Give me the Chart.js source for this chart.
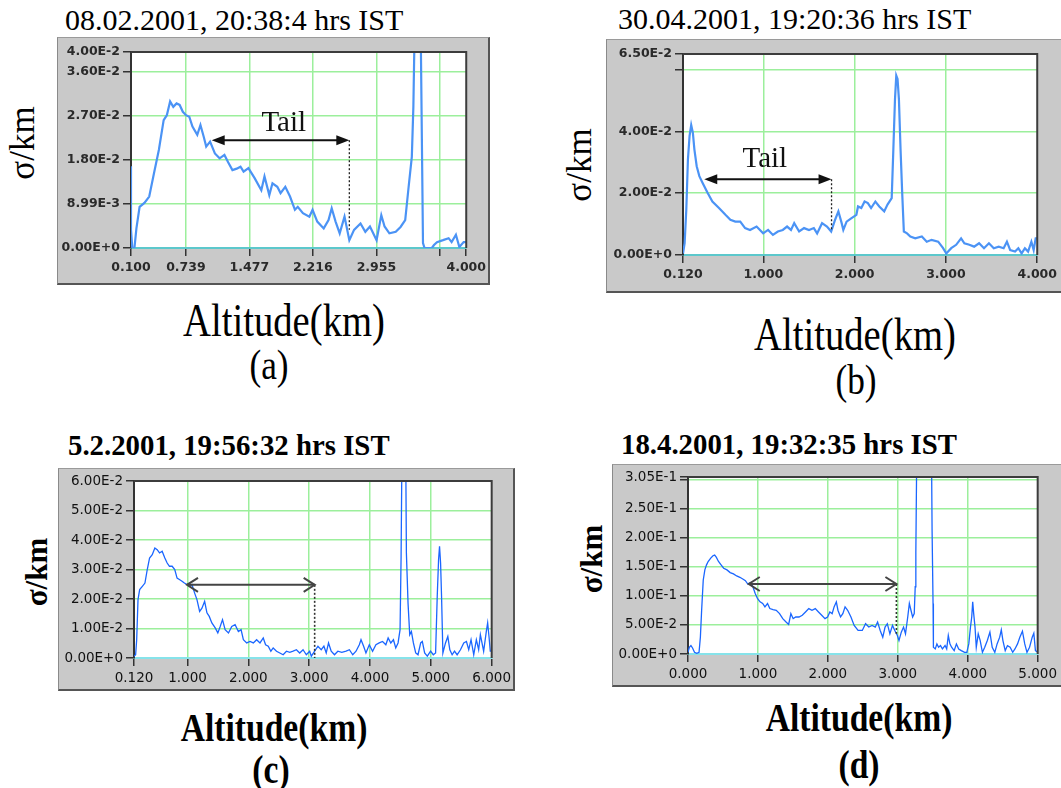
<!DOCTYPE html>
<html><head><meta charset="utf-8">
<script src="https://cdn.jsdelivr.net/npm/chart.js@4.4.1/dist/chart.umd.min.js"></script>
<style>
body{margin:0;background:#fff;width:1061px;height:788px;position:relative;overflow:hidden;}
.frame{position:absolute;box-sizing:border-box;background:#c9c9c9;border-top:1px solid #9a9a9a;border-left:1px solid #8a8a8a;border-right:2px solid #555;border-bottom:2px solid #555;}
canvas{position:absolute;}
.t{position:absolute;white-space:nowrap;line-height:1;color:#000;font-family:"Liberation Serif","Times New Roman",serif;}
.c{transform:translateX(-50%) scaleX(0.84);}
.r{transform:translate(-50%,-50%) rotate(-90deg);}
</style></head>
<body>
<div class="frame" style="left:57px;top:37px;width:433px;height:248px"></div>
<div class="frame" style="left:606px;top:39px;width:460px;height:254px"></div>
<div class="frame" style="left:58px;top:468px;width:457px;height:223px"></div>
<div class="frame" style="left:612px;top:464px;width:460px;height:223px"></div>
<canvas id="cA" width="433" height="248" style="left:57px;top:37px"></canvas>
<canvas id="cB" width="455" height="254" style="left:606px;top:39px"></canvas>
<canvas id="cC" width="457" height="223" style="left:58px;top:468px"></canvas>
<canvas id="cD" width="449" height="223" style="left:612px;top:464px"></canvas>

<div class="t" style="left:65px;top:4.9px;font-size:30px">08.02.2001, 20:38:4 hrs IST</div>
<div class="t" style="left:618px;top:3.9px;font-size:30px">30.04.2001, 19:20:36 hrs IST</div>
<div class="t" style="left:68px;top:431px;font-size:28.8px;font-weight:bold">5.2.2001, 19:56:32 hrs IST</div>
<div class="t" style="left:621px;top:430px;font-size:28.8px;font-weight:bold">18.4.2001, 19:32:35 hrs IST</div>

<div class="t r" style="left:22px;top:143px;font-size:35px">σ/km</div>
<div class="t r" style="left:579px;top:165px;font-size:35px">σ/km</div>
<div class="t r" style="left:36px;top:572px;font-size:31px;font-weight:bold">σ/km</div>
<div class="t r" style="left:591px;top:559px;font-size:31px;font-weight:bold">σ/km</div>

<div class="t c" style="left:284px;top:297.5px;font-size:46px">Altitude(km)</div>
<div class="t c" style="left:269px;top:344px;font-size:42px">(a)</div>
<div class="t c" style="left:855px;top:311.5px;font-size:46px">Altitude(km)</div>
<div class="t c" style="left:856px;top:359px;font-size:42px">(b)</div>
<div class="t c" style="left:274px;top:707.5px;font-size:40px;font-weight:bold">Altitude(km)</div>
<div class="t c" style="left:271px;top:749.5px;font-size:40px;font-weight:bold">(c)</div>
<div class="t c" style="left:859px;top:697.5px;font-size:40px;font-weight:bold">Altitude(km)</div>
<div class="t c" style="left:859px;top:744.5px;font-size:40px;font-weight:bold">(d)</div>

<script>
// ---------- Panel (a) ----------
const altA = [
 0.1, 0.1, 0.115, 0.14, 0.163, 0.2, 0.256, 0.312, 0.368, 0.424,
 0.48, 0.517, 0.555, 0.592, 0.63, 0.666, 0.703, 0.74, 0.778, 0.815,
 0.871, 0.908, 0.946, 0.975, 1.02, 1.076, 1.131, 1.187, 1.23, 1.28,
 1.33, 1.374, 1.41, 1.466, 1.54, 1.616, 1.653, 1.709, 1.746, 1.802,
 1.84, 1.895, 1.95, 2.007, 2.04, 2.1, 2.175, 2.212, 2.267, 2.342,
 2.398, 2.435, 2.48, 2.528, 2.584, 2.64, 2.695, 2.77, 2.826, 2.88,
 2.957, 3.012, 3.05, 3.106, 3.18, 3.236, 3.29, 3.33, 3.367, 3.385,
 3.40, 3.42, 3.45, 3.47, 3.497, 3.515, 3.6, 3.625, 3.66, 3.73,
 3.795, 3.83, 3.88, 3.92, 3.97, 4.0];
const sigmaA = [
 0.0167, 0.0037, 0, 0, 0.004, 0.0084, 0.0092, 0.0105, 0.0153, 0.0200,
 0.0261, 0.0271, 0.0299, 0.0288, 0.0295, 0.0292, 0.0278, 0.0271, 0.0268, 0.0248,
 0.0231, 0.0251, 0.0227, 0.0207, 0.0217, 0.0193, 0.0183, 0.0190, 0.0175, 0.0159,
 0.0162, 0.0166, 0.0156, 0.0163, 0.0142, 0.0118, 0.0146, 0.0108, 0.0132, 0.0125,
 0.0112, 0.0125, 0.0105, 0.0078, 0.0084, 0.0071, 0.0064, 0.0078, 0.0054, 0.0040,
 0.0057, 0.0081, 0.0054, 0.0030, 0.0064, 0.0016, 0.0037, 0.0050, 0.0033, 0.0044,
 0.0016, 0.0067, 0.0044, 0.0030, 0.0033, 0.0043, 0.0057, 0.0125, 0.0186, 0.0288,
 0.045, 0.06, 0.06, 0.045, 0.001, 0, 0, 0.0006, 0.0012, 0.0016,
 0.0020, 0.0012, 0.0027, 0.0002, 0.0012, 0.0012];
const xTicksA = [0.1, 0.739, 1.477, 2.216, 2.955, 3.694, 4.0];
const xLabelsA = ['0.100', '0.739', '1.477', '2.216', '2.955', '', '4.000'];
const yTicksA = [0, 0.00899, 0.018, 0.027, 0.036, 0.04];
const yLabelsA = ['0.00E+0', '8.99E-3', '1.80E-2', '2.70E-2', '3.60E-2', '4.00E-2'];
const tailA = [1.039, 2.64, 0.022, 0.0037];     // arrow start, end, level, dotted drop
const tailTextA = [1.877, 0.0255];

// ---------- Panel (b) ----------
const altB = [
 0.12, 0.138, 0.156, 0.174, 0.192, 0.21, 0.228, 0.245, 0.27, 0.299,
 0.335, 0.389, 0.442, 0.514, 0.585, 0.639, 0.693, 0.747, 0.8, 0.854,
 0.926, 0.998, 1.052, 1.105, 1.159, 1.213, 1.26, 1.303, 1.338, 1.392,
 1.446, 1.5, 1.553, 1.589, 1.643, 1.697, 1.743, 1.786, 1.822, 1.858,
 1.876, 1.912, 1.966, 2.019, 2.037, 2.073, 2.109, 2.145, 2.18, 2.227,
 2.27, 2.324, 2.36, 2.406, 2.424, 2.442, 2.456, 2.47, 2.485, 2.503,
 2.521, 2.539, 2.574, 2.61, 2.664, 2.736, 2.79, 2.843, 2.915, 2.969,
 3.004, 3.058, 3.112, 3.166, 3.202, 3.256, 3.309, 3.363, 3.417, 3.471,
 3.524, 3.578, 3.632, 3.668, 3.704, 3.757, 3.793, 3.829, 3.865, 3.9,
 3.936, 3.961, 3.983, 4.0];
const sigmaB = [
 0.0005, 0.0038, 0.0146, 0.0309, 0.0385, 0.042, 0.0396, 0.0341, 0.0287, 0.0255,
 0.0233, 0.0201, 0.0173, 0.0152, 0.013, 0.0114, 0.0108, 0.0108, 0.0087, 0.0081,
 0.0092, 0.007, 0.0081, 0.0065, 0.0076, 0.0081, 0.0092, 0.0081, 0.0103, 0.0076,
 0.0087, 0.0081, 0.0087, 0.007, 0.0103, 0.0092, 0.0076, 0.0114, 0.0141, 0.0103,
 0.0081, 0.0108, 0.0119, 0.013, 0.0157, 0.0152, 0.0173, 0.0168, 0.0152, 0.0173,
 0.0157, 0.0141, 0.0163, 0.0184, 0.0341, 0.0504, 0.058, 0.0569, 0.0504, 0.0341,
 0.02, 0.0076, 0.007, 0.006, 0.0054, 0.006, 0.0043, 0.0049, 0.0043, 0.0022,
 0.0005, 0.0022, 0.0033, 0.0054, 0.0038, 0.0033, 0.0027, 0.0038, 0.0022, 0.0038,
 0.0022, 0.0027, 0.0022, 0.0043, 0.0016, 0.0011, 0.0022, 0.0005, 0.0022, 0.0011,
 0.0043, 0.0016, 0.0054, 0.0054];
const xTicksB = [0.12, 1, 2, 3, 4];
const xLabelsB = ['0.120', '1.000', '2.000', '3.000', '4.000'];
const yTicksB = [0, 0.02, 0.04, 0.06, 0.065];
const yLabelsB = ['0.00E+0', '2.00E-2', '4.00E-2', '', '6.50E-2'];
const tailB = [0.353, 1.747, 0.0245, 0.0077];
const tailTextB = [1.016, 0.031];

// ---------- Panel (c) ----------
const altC = [
 0.12, 0.147, 0.164, 0.186, 0.213, 0.257, 0.3, 0.338, 0.376, 0.42,
 0.463, 0.501, 0.54, 0.583, 0.627, 0.665, 0.703, 0.747, 0.79, 0.828,
 0.866, 0.91, 0.948, 0.992, 1.03, 1.073, 1.117, 1.155, 1.199, 1.237,
 1.281, 1.319, 1.357, 1.4, 1.455, 1.498, 1.537, 1.575, 1.618, 1.673,
 1.727, 1.782, 1.836, 1.88, 1.918, 1.973, 2.027, 2.082, 2.136, 2.191,
 2.245, 2.283, 2.327, 2.37, 2.408, 2.463, 2.517, 2.572, 2.626, 2.681,
 2.735, 2.79, 2.844, 2.899, 2.953, 3.008, 3.035, 3.09, 3.144, 3.198,
 3.242, 3.28, 3.318, 3.362, 3.416, 3.471, 3.536, 3.607, 3.661, 3.716,
 3.77, 3.824, 3.852, 3.895, 3.933, 3.988, 4.042, 4.097, 4.151, 4.206,
 4.26, 4.298, 4.342, 4.385, 4.423, 4.461, 4.494, 4.511, 4.527, 4.56,
 4.587, 4.598, 4.625, 4.653, 4.68, 4.713, 4.751, 4.789, 4.833, 4.86,
 4.898, 4.942, 4.996, 5.04, 5.078, 5.105, 5.127, 5.143, 5.16, 5.176,
 5.198, 5.241, 5.279, 5.312, 5.35, 5.389, 5.432, 5.487, 5.541, 5.585,
 5.623, 5.661, 5.705, 5.748, 5.786, 5.814, 5.841, 5.868, 5.912, 5.934,
 5.956, 5.977, 6.0];
const sigmaC = [
 0.0006, 0.0011, 0.0062, 0.0198, 0.0232, 0.0243, 0.0254, 0.03, 0.0339, 0.035,
 0.0373, 0.0367, 0.0356, 0.0362, 0.0339, 0.0322, 0.0311, 0.0311, 0.03, 0.0271,
 0.0266, 0.026, 0.0254, 0.0249, 0.0243, 0.0249, 0.022, 0.0198, 0.0158, 0.0169,
 0.0192, 0.0153, 0.0141, 0.0119, 0.0102, 0.0085, 0.0107, 0.013, 0.0096, 0.0085,
 0.0107, 0.0113, 0.009, 0.0096, 0.0062, 0.0051, 0.0056, 0.0051, 0.0062, 0.0051,
 0.0068, 0.0045, 0.004, 0.0023, 0.0034, 0.0023, 0.0017, 0.0011, 0.0023, 0.0019,
 0.0023, 0.0028, 0.0017, 0.0028, 0.0011, 0.0023, 0.0006, 0.0023, 0.004, 0.0028,
 0.004, 0.0017, 0.0051, 0.0023, 0.0011, 0.0023, 0.0019, 0.0023, 0.0028, 0.0011,
 0.0023, 0.0045, 0.0062, 0.004, 0.0017, 0.0045, 0.0023, 0.0045, 0.0051, 0.0056,
 0.0045, 0.0068, 0.0051, 0.0062, 0.0034, 0.0051, 0.0096, 0.0345, 0.075, 0.08,
 0.07, 0.0356, 0.0186, 0.0079, 0.009, 0.0051, 0.0017, 0.0011, 0.0051, 0.0056,
 0.0017, 0.0006, 0.0023, 0.0011, 0.0017, 0.0209, 0.0333, 0.0379, 0.0322, 0.0209,
 0.0017, 0.0051, 0.0073, 0.0028, 0.0011, 0.0023, 0.0011, 0.0028, 0.0051, 0.0056,
 0.0028, 0.0062, 0.0011, 0.0062, 0.0028, 0.0079, 0.0051, 0.0023, 0.009, 0.0119,
 0.0073, 0.0023, 0.0023];
const xTicksC = [0.12, 1, 2, 3, 4, 5, 6];
const xLabelsC = ['0.120', '1.000', '2.000', '3.000', '4.000', '5.000', '6.000'];
const yTicksC = [0, 0.01, 0.02, 0.03, 0.04, 0.05, 0.06];
const yLabelsC = ['0.00E+0', '1.00E-2', '2.00E-2', '3.00E-2', '4.00E-2', '5.00E-2', '6.00E-2'];
const tailC = [0.991, 3.09, 0.0248, 0];

// ---------- Panel (d) ----------
const altD = [
 0.0, 0.019, 0.042, 0.065, 0.093, 0.126, 0.158, 0.177, 0.195, 0.218,
 0.241, 0.265, 0.288, 0.325, 0.357, 0.381, 0.404, 0.436, 0.473, 0.51,
 0.557, 0.603, 0.65, 0.696, 0.742, 0.789, 0.821, 0.854, 0.891, 0.928,
 0.961, 0.993, 1.03, 1.068, 1.1, 1.137, 1.17, 1.216, 1.262, 1.309,
 1.355, 1.402, 1.439, 1.471, 1.504, 1.541, 1.587, 1.634, 1.68, 1.727,
 1.773, 1.82, 1.866, 1.912, 1.959, 1.996, 2.028, 2.061, 2.089, 2.121,
 2.144, 2.181, 2.214, 2.246, 2.283, 2.33, 2.376, 2.432, 2.492, 2.539,
 2.585, 2.632, 2.678, 2.711, 2.748, 2.785, 2.818, 2.85, 2.887, 2.924,
 2.957, 2.994, 3.017, 3.05, 3.082, 3.11, 3.142, 3.165, 3.188, 3.212,
 3.235, 3.249, 3.258, 3.272, 3.481, 3.49, 3.504, 3.509, 3.536, 3.559,
 3.583, 3.611, 3.638, 3.676, 3.699, 3.722, 3.745, 3.769, 3.806, 3.838,
 3.871, 3.908, 3.955, 3.987, 4.015, 4.039, 4.057, 4.071, 4.085, 4.104,
 4.122, 4.15, 4.178, 4.21, 4.243, 4.28, 4.317, 4.35, 4.387, 4.42,
 4.457, 4.48, 4.503, 4.536, 4.568, 4.606, 4.643, 4.675, 4.712, 4.745,
 4.782, 4.815, 4.847, 4.884, 4.922, 4.945, 4.968, 5.0];
const sigmaD = [
 0.003, 0.0116, 0.0145, 0.0104, 0.0029, 0.0012, 0.0029, 0.029, 0.0754, 0.1275,
 0.1449, 0.1536, 0.1594, 0.1652, 0.1693, 0.1704, 0.167, 0.1594, 0.1536, 0.1478,
 0.1449, 0.1403, 0.138, 0.1345, 0.1322, 0.1287, 0.1264, 0.1206, 0.1229, 0.1159,
 0.1043, 0.0957, 0.0899, 0.087, 0.0812, 0.087, 0.0783, 0.0765, 0.0754, 0.0696,
 0.0609, 0.0551, 0.051, 0.0696, 0.0609, 0.0638, 0.0638, 0.0667, 0.0725, 0.0783,
 0.0754, 0.0783, 0.0725, 0.0667, 0.0609, 0.0638, 0.0725, 0.0696, 0.0812, 0.0899,
 0.0754, 0.0638, 0.0696, 0.0812, 0.0754, 0.0638, 0.0493, 0.0406, 0.0406, 0.0522,
 0.0464, 0.0493, 0.0464, 0.0551, 0.0406, 0.029, 0.0464, 0.0522, 0.0348, 0.0493,
 0.0406, 0.0319, 0.0232, 0.0377, 0.0464, 0.0348, 0.0638, 0.087, 0.0754, 0.0638,
 0.0696, 0.1159, 0.1739, 0.36, 0.36, 0.2145, 0.087, 0.0116, 0.0087, 0.0174,
 0.0116, 0.0145, 0.0087, 0.0145, 0.0087, 0.0319, 0.0174, 0.0116, 0.0058, 0.0174,
 0.0087, 0.0058, 0.0029, 0.0029, 0.0174, 0.0464, 0.0638, 0.0899, 0.0696, 0.0464,
 0.0116, 0.0348, 0.0232, 0.0029, 0.0116, 0.0232, 0.0377, 0.0116, 0.0029, 0.0174,
 0.029, 0.0417, 0.0232, 0.0058, 0.0145, 0.0116, 0.0029, 0.0087, 0.0174, 0.029,
 0.0394, 0.0174, 0.0029, 0.0116, 0.029, 0.0359, 0.0058, 0.0029];
const xTicksD = [0, 1, 2, 3, 4, 5];
const xLabelsD = ['0.000', '1.000', '2.000', '3.000', '4.000', '5.000'];
const yTicksD = [0, 0.05, 0.1, 0.15, 0.2, 0.25, 0.3, 0.305];
const yLabelsD = ['0.00E+0', '5.00E-2', '1.00E-1', '1.50E-1', '2.00E-1', '2.50E-1', '', '3.05E-1'];
const tailD = [0.869, 2.98, 0.1206, 0.0348];

// ---------- drawing ----------
const GRID = '#9cef9c';
const points = (xs, ys) => xs.map((x, i) => ({x: x, y: ys[i]}));
const edgeColor = (c, lo, hi) => (c.tick && (Math.abs(c.tick.value - lo) < 1e-9 || Math.abs(c.tick.value - hi) < 1e-9)) ? 'rgba(0,0,0,0)' : GRID;

const panelPlugin = {
  id: 'panel',
  beforeDraw(chart) {
    const {ctx, chartArea: a} = chart;
    ctx.save(); ctx.fillStyle = '#ffffff';
    ctx.fillRect(a.left, a.top, a.right - a.left, a.bottom - a.top);
    ctx.restore();
  },
  afterDatasetsDraw(chart, args, o) {
    const {ctx, chartArea: a} = chart;
    const xs = chart.scales.x, ys = chart.scales.y;
    ctx.save();
    ctx.strokeStyle = '#3c3c3c'; ctx.lineWidth = 2;
    ctx.beginPath(); ctx.moveTo(a.left, a.top); ctx.lineTo(a.right, a.top); ctx.lineTo(a.right, a.bottom); ctx.stroke();
    const t = o.tail;
    const x1 = xs.getPixelForValue(t[0]), x2 = xs.getPixelForValue(t[1]);
    const y = ys.getPixelForValue(t[2]), yd = ys.getPixelForValue(t[3]);
    ctx.strokeStyle = o.dotColor; ctx.lineWidth = o.dotWidth; ctx.setLineDash([2, 2]);
    ctx.beginPath(); ctx.moveTo(x2, y); ctx.lineTo(x2, yd); ctx.stroke();
    ctx.setLineDash([]);
    ctx.strokeStyle = o.arrowColor; ctx.fillStyle = o.arrowColor; ctx.lineWidth = o.arrowWidth;
    const L = o.head, H = o.half;
    if (o.filled) {
      ctx.beginPath(); ctx.moveTo(x1 + L - 1, y); ctx.lineTo(x2 - L + 1, y); ctx.stroke();
      ctx.beginPath(); ctx.moveTo(x1, y); ctx.lineTo(x1 + L, y - H); ctx.lineTo(x1 + L, y + H); ctx.closePath(); ctx.fill();
      ctx.beginPath(); ctx.moveTo(x2, y); ctx.lineTo(x2 - L, y - H); ctx.lineTo(x2 - L, y + H); ctx.closePath(); ctx.fill();
    } else {
      ctx.beginPath(); ctx.moveTo(x1, y); ctx.lineTo(x2, y); ctx.stroke();
      ctx.beginPath(); ctx.moveTo(x1 + L, y - H); ctx.lineTo(x1, y); ctx.lineTo(x1 + L, y + H); ctx.stroke();
      ctx.beginPath(); ctx.moveTo(x2 - L, y - H); ctx.lineTo(x2, y); ctx.lineTo(x2 - L, y + H); ctx.stroke();
    }
    if (o.text) {
      ctx.fillStyle = '#111'; ctx.font = '29px "Liberation Serif", serif';
      ctx.textAlign = 'center'; ctx.textBaseline = 'middle';
      ctx.fillText(o.text, xs.getPixelForValue(o.textPos[0]), ys.getPixelForValue(o.textPos[1]));
    }
    ctx.restore();
  }
};

function makeChart(id, p) {
  new Chart(document.getElementById(id), {
    type: 'line',
    data: {datasets: [{data: points(p.alt, p.sigma), borderColor: p.lineColor, borderWidth: p.lineWidth,
      pointRadius: 0, tension: 0, fill: false}]},
    options: {
      responsive: false, animation: false, devicePixelRatio: 1,
      layout: {autoPadding: false, padding: {left: 0, top: p.padTop, right: p.padRight, bottom: 0}},
      plugins: {legend: {display: false}, tooltip: {enabled: false}, panel: p.ann},
      scales: {
        x: {type: 'linear', min: p.xMin, max: p.xMax,
          afterBuildTicks: s => { s.ticks = p.xTicks.map(v => ({value: v})); },
          afterFit: s => { s.height = p.xHeight; },
          ticks: {callback: (v, i) => p.xLabels[i], autoSkip: false, maxRotation: 0, minRotation: 0,
            padding: 4, color: p.tickColor, font: p.tickFont},
          grid: {color: c => edgeColor(c, p.xMin, p.xMax), lineWidth: 1.5, tickColor: '#333', tickLength: 8, drawTicks: true},
          border: {color: p.zeroColor, width: 2}},
        y: {type: 'linear', min: 0, max: p.yMax,
          afterBuildTicks: s => { s.ticks = p.yTicks.map(v => ({value: v})); },
          afterFit: s => { s.width = p.yWidth; },
          ticks: {callback: (v, i) => p.yLabels[i], autoSkip: false, padding: 3, color: p.tickColor, font: p.tickFont},
          grid: {color: c => edgeColor(c, 0, p.yMax), lineWidth: 1.5, tickColor: '#333', tickLength: 8, drawTicks: true},
          border: {color: '#333', width: 2}}
      }
    },
    plugins: [panelPlugin]
  });
}

const fontAB = {family: '"DejaVu Sans", Verdana, sans-serif', size: 12.5, weight: 'bold'};
const fontCD = {family: '"DejaVu Sans", Verdana, sans-serif', size: 13.5, weight: 'normal'};
const annAB = (tail, pos) => ({tail: tail, filled: true, arrowColor: '#111', arrowWidth: 2, head: 13, half: 5,
  dotColor: '#222', dotWidth: 1.3, text: 'Tail', textPos: pos});
const annCD = tail => ({tail: tail, filled: false, arrowColor: '#444', arrowWidth: 2, head: 11, half: 7,
  dotColor: '#333', dotWidth: 1.6, text: ''});

makeChart('cA', {alt: altA, sigma: sigmaA, xMin: 0.1, xMax: 4.0, yMax: 0.04,
  xTicks: xTicksA, xLabels: xLabelsA, yTicks: yTicksA, yLabels: yLabelsA,
  yWidth: 74, xHeight: 37, padTop: 15, padRight: 9,
  lineColor: '#4b93f5', lineWidth: 2.2, zeroColor: '#5cc8cc', tickColor: '#2a2a2a', tickFont: fontAB,
  ann: annAB(tailA, tailTextA)});
makeChart('cB', {alt: altB, sigma: sigmaB, xMin: 0.12, xMax: 4.0, yMax: 0.065,
  xTicks: xTicksB, xLabels: xLabelsB, yTicks: yTicksB, yLabels: yLabelsB,
  yWidth: 77, xHeight: 38, padTop: 15, padRight: 14,
  lineColor: '#4b93f5', lineWidth: 2.2, zeroColor: '#5cc8cc', tickColor: '#2a2a2a', tickFont: fontAB,
  ann: annAB(tailB, tailTextB)});
makeChart('cC', {alt: altC, sigma: sigmaC, xMin: 0.12, xMax: 6.0, yMax: 0.06,
  xTicks: xTicksC, xLabels: xLabelsC, yTicks: yTicksC, yLabels: yLabelsC,
  yWidth: 76, xHeight: 33, padTop: 13, padRight: 19,
  lineColor: '#1a66ff', lineWidth: 1.3, zeroColor: '#86e3ea', tickColor: '#111', tickFont: fontCD,
  ann: annCD(tailC)});
makeChart('cD', {alt: altD, sigma: sigmaD, xMin: 0, xMax: 5.0, yMax: 0.305,
  xTicks: xTicksD, xLabels: xLabelsD, yTicks: yTicksD, yLabels: yLabelsD,
  yWidth: 76, xHeight: 33, padTop: 13, padRight: 13,
  lineColor: '#1a66ff', lineWidth: 1.3, zeroColor: '#86e3ea', tickColor: '#111', tickFont: fontCD,
  ann: annCD(tailD)});
</script>
</body></html>
